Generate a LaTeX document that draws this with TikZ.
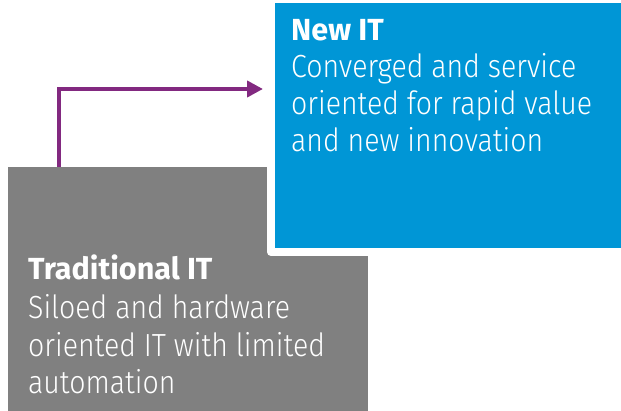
\documentclass[tikz,border=0pt]{standalone}
\usepackage{fontspec}
\setmainfont{Fira Sans Light}[BoldFont={Fira Sans Bold}]
\newfontfamily\bodyfont{Fira Sans Light}[FakeStretch=0.89]
\usetikzlibrary{arrows.meta}
\definecolor{hpblue}{HTML}{0096D6}
\definecolor{hpgray}{HTML}{808080}
\definecolor{hppurple}{HTML}{822980}
\tikzset{
  txt/.style={anchor=base west, inner sep=0pt, text=white, font=\bodyfont\fontsize{32}{37}\selectfont},
  head/.style={anchor=base west, inner sep=0pt, text=white, font=\fontsize{30.5}{36}\selectfont\bfseries},
  flow/.style={draw=hppurple, line width=4pt, -{Triangle[length=16pt,width=16pt]}}
}
\begin{document}
\begin{tikzpicture}[x=1pt,y=-1pt]
\useasboundingbox (0,0) rectangle (621,411);
\fill[hpgray] (8,167) rectangle (368,411);
\fill[white, rounded corners=4pt] (267,-5) rectangle (630,256);
\fill[hpblue] (275,3) rectangle (630,248);
\coordinate (start) at (59,167);
\coordinate (bend) at (59,89);
\coordinate (goal) at (263,89);
\draw[flow] (start) -- (bend) -- (goal);
\node[head] (nh) at (291,41) {New IT};
\node[txt] (n1) at (291,78) {Converged and service};
\node[txt] (n2) at (291,115) {oriented for rapid value};
\node[txt] (n3) at (291,152) {and new innovation};
\node[head] (th) at (28,280) {Traditional IT};
\node[txt] (t1) at (28,319) {Siloed and hardware};
\node[txt] (t2) at (28,357) {oriented IT with limited};
\node[txt] (t3) at (28,394) {automation};
\end{tikzpicture}
\end{document}
